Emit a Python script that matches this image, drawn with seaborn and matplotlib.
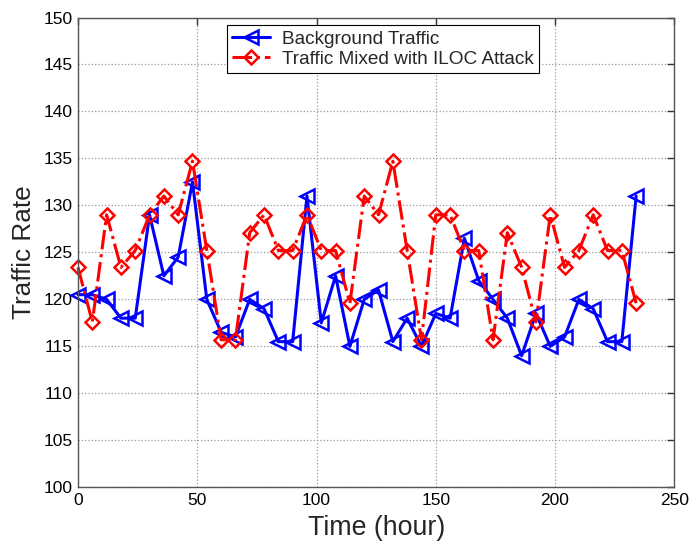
import numpy as np
import pandas as pd
import matplotlib
matplotlib.use("Agg")
import matplotlib.pyplot as plt
import seaborn as sns

hours = list(range(0, 240, 6))
background = [120.5, 120.5, 120.0, 118.0, 118.0, 129.0, 122.5, 124.5, 132.5, 120.0,
              116.5, 116.0, 120.0, 119.0, 115.5, 115.5, 131.0, 117.5, 122.5, 115.0,
              120.0, 121.0, 115.5, 118.0, 115.0, 118.5, 118.0, 126.5, 122.0, 120.0,
              118.0, 114.0, 118.5, 115.0, 116.0, 120.0, 119.0, 115.5, 115.5, 131.0]
mixed = [123.4, 117.6, 129.0, 123.4, 125.2, 129.0, 131.0, 129.0, 134.7, 125.2,
         115.7, 115.7, 127.1, 129.0, 125.2, 125.2, 129.0, 125.2, 125.2, 119.6,
         131.0, 129.0, 134.7, 125.2, 115.7, 129.0, 129.0, 125.2, 125.2, 115.7,
         127.1, 123.4, 117.6, 129.0, 123.4, 125.2, 129.0, 125.2, 125.2, 119.6]
label_bg = "Background Traffic"
label_mix = "Traffic Mixed with ILOC Attack"
xticks = [0, 50, 100, 150, 200, 250]
yticks = list(range(100, 151, 5))

sns.set_style("white")
plt.rcParams['font.family'] = ['Liberation Sans', 'DejaVu Sans']

fig = plt.figure(figsize=(6.91, 5.43), dpi=100)
ax = fig.add_axes([78/691, 1-487.3/543, (674.3-78)/691, (487.3-17.5)/543])

sns.lineplot(x=hours, y=background, ax=ax, color='#0000ff', linewidth=2.2,
             marker='<', markersize=10, markerfacecolor='none', markeredgecolor='#0000ff',
             markeredgewidth=1.8, label=label_bg, clip_on=False)
sns.lineplot(x=hours, y=mixed, ax=ax, color='#ff0000', linewidth=2.2, linestyle='-.',
             marker='D', markersize=7.5, markerfacecolor='none', markeredgecolor='#ff0000',
             markeredgewidth=1.8, label=label_mix, clip_on=False)

ax.set_xlim(0, 250)
ax.set_ylim(100, 150)
ax.set_xticks(xticks)
ax.set_yticks(yticks)
ax.grid(True, linestyle=':', color='#999999', linewidth=0.9)
ax.tick_params(direction='in', length=5, width=1, colors='#333333', labelcolor='black',
               labelsize=12.5, top=True, right=True, pad=4)
for s in ax.spines.values():
    s.set_color('#555555')
    s.set_linewidth(1.0)
ax.set_xlabel("Time (hour)", fontsize=19.3, labelpad=5)
ax.set_ylabel("Traffic Rate", fontsize=18.8, labelpad=5)

leg = ax.legend(loc='upper left', bbox_to_anchor=((226.7-78)/596.3, (487.3-25)/469.8),
                borderaxespad=0, fontsize=13.7, frameon=True, fancybox=False,
                framealpha=1, edgecolor='black', handlelength=2.0, handletextpad=0.6,
                borderpad=0.3, labelspacing=0.12)
leg.get_frame().set_linewidth(0.8)

fig.savefig("out.png", dpi=100)
